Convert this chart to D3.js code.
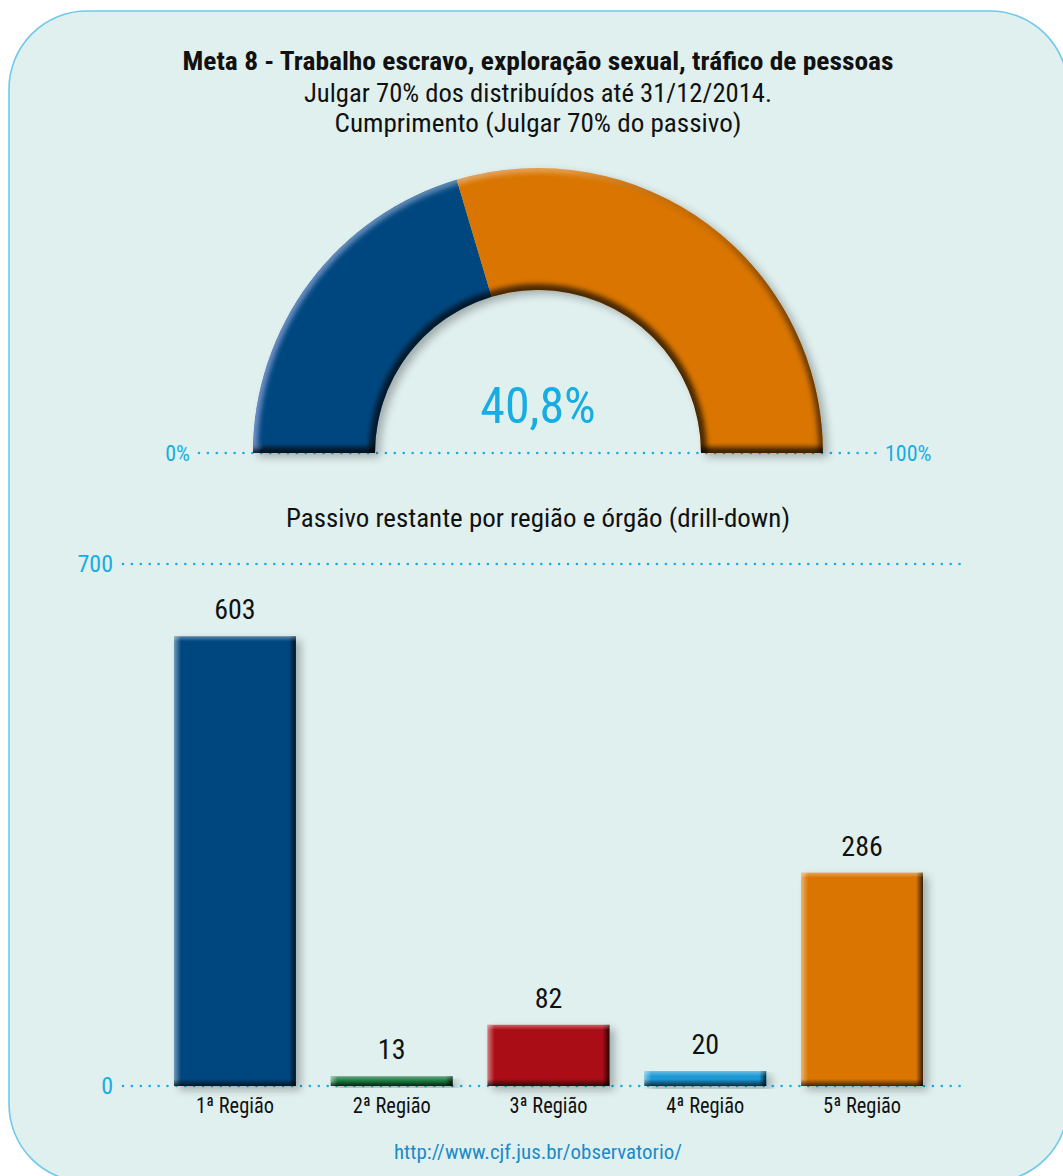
<!DOCTYPE html>
<html>
<head>
<meta charset="utf-8">
<script src="https://cdn.jsdelivr.net/npm/d3@7"></script>
<style>
  html, body { margin: 0; padding: 0; background: #ffffff; }
  svg { display: block; }
  text { font-family: "Liberation Sans Narrow", "Roboto Condensed", "DejaVu Sans Condensed", sans-serif; }
</style>
</head>
<body>
<svg id="chart" width="1063" height="1176"></svg>
<script>
// ---------- DATA ----------
const titleLines = [
  "Meta 8 - Trabalho escravo, exploração sexual, tráfico de pessoas",
  "Julgar 70% dos distribuídos até 31/12/2014.",
  "Cumprimento (Julgar 70% do passivo)"
];
const gaugeValue = 40.8;           // percent accomplished
const gaugeLabel = "40,8%";
const gaugeTickLabels = ["0%", "100%"];
const barSubtitle = "Passivo restante por região e órgão (drill-down)";
const categories = ["1ª Região", "2ª Região", "3ª Região", "4ª Região", "5ª Região"];
const values = [603, 13, 82, 20, 286];
const barColors = ["#02467f", "#13753a", "#ab0919", "#1a9ad6", "#d97504"];
const yTicks = [0, 700];
const sourceUrl = "http://www.cjf.jus.br/observatorio/";

// ---------- SETUP ----------
const svg = d3.select("#chart");
const defs = svg.append("defs");
const accent = "#17ade2";
const FONT = "Liberation Sans Narrow, Roboto Condensed, DejaVu Sans Condensed, sans-serif";

// background panel
svg.append("rect")
  .attr("x", 9).attr("y", 11).attr("width", 1059).attr("height", 1171)
  .attr("rx", 78).attr("ry", 78)
  .attr("fill", "#e0f0ef").attr("stroke", "#6fc9ec").attr("stroke-width", 1.6);

// filters
const sh = defs.append("filter").attr("id", "shadow")
  .attr("x", "-20%").attr("y", "-20%").attr("width", "140%").attr("height", "140%");
sh.append("feGaussianBlur").attr("in", "SourceAlpha").attr("stdDeviation", 4).attr("result", "b");
sh.append("feOffset").attr("in", "b").attr("dx", 5).attr("dy", 4).attr("result", "o");
sh.append("feComponentTransfer").attr("in", "o").attr("result", "s")
  .append("feFuncA").attr("type", "linear").attr("slope", 0.28);
const shm = sh.append("feMerge");
shm.append("feMergeNode").attr("in", "s");
shm.append("feMergeNode").attr("in", "SourceGraphic");

defs.append("filter").attr("id", "soft")
  .attr("x", "-10%").attr("y", "-10%").attr("width", "120%").attr("height", "120%")
  .append("feGaussianBlur").attr("stdDeviation", 2.4);

function linGrad(id, x1, y1, x2, y2, stops) {
  const g = defs.append("linearGradient").attr("id", id)
    .attr("x1", x1).attr("y1", y1).attr("x2", x2).attr("y2", y2);
  stops.forEach(s => g.append("stop").attr("offset", s[0]).attr("stop-color", s[1]).attr("stop-opacity", s[2]));
}
linGrad("gL", 0, 0, 1, 0, [[0, "#fff", 0.45], [1, "#fff", 0]]);
linGrad("gR", 0, 0, 1, 0, [[0, "#000", 0], [1, "#000", 0.75]]);
linGrad("gT", 0, 0, 0, 1, [[0, "#fff", 0.35], [1, "#fff", 0]]);
linGrad("gB", 0, 0, 0, 1, [[0, "#000", 0], [1, "#000", 0.7]]);

// dotted line helper
function dotted(x1, x2, y) {
  svg.append("line").attr("x1", x1).attr("x2", x2).attr("y1", y).attr("y2", y)
    .attr("stroke", accent).attr("stroke-width", 2.6)
    .attr("stroke-linecap", "round").attr("stroke-dasharray", "0 8.9");
}

// ---------- TITLES ----------
const titleSpecs = [
  { y: 70, size: 26, weight: "bold", len: 711 },
  { y: 102, size: 26, weight: "normal", len: 468 },
  { y: 132, size: 26, weight: "normal", len: 407 }
];
titleLines.forEach((t, i) => {
  const s = titleSpecs[i];
  svg.append("text").attr("x", 538).attr("y", s.y)
    .attr("text-anchor", "middle").attr("font-size", s.size).attr("font-weight", s.weight)
    .attr("fill", "#111").attr("textLength", s.len).attr("lengthAdjust", "spacingAndGlyphs")
    .text(t);
});

// ---------- GAUGE ----------
const gcx = 538, gcy = 453, rOut = 285, rIn = 163;
const angle = d3.scaleLinear().domain([0, 100]).range([-Math.PI / 2, Math.PI / 2]);
const arc = d3.arc().innerRadius(rIn).outerRadius(rOut);
const segs = [
  { a0: 0, a1: gaugeValue, color: "#02467f" },
  { a0: gaugeValue, a1: 100, color: "#d97504" }
];

dotted(199, 878, gcy);

const gauge = svg.append("g").attr("transform", `translate(${gcx},${gcy})`);
const clip = defs.append("clipPath").attr("id", "gclip");
clip.append("path").attr("d", arc({ startAngle: angle(0), endAngle: angle(100) }));

const gShape = gauge.append("g").attr("filter", "url(#shadow)");
gShape.selectAll("path.seg").data(segs).join("path").attr("class", "seg")
  .attr("d", d => arc({ startAngle: angle(d.a0), endAngle: angle(d.a1) }))
  .attr("fill", d => d.color);

const bevel = gauge.append("g").attr("clip-path", "url(#gclip)");
defs.append("linearGradient").attr("id", "gOuter").attr("gradientUnits", "userSpaceOnUse")
  .attr("x1", -rOut).attr("y1", 0).attr("x2", rOut).attr("y2", 0)
  .call(g => {
    g.append("stop").attr("offset", 0).attr("stop-color", "#c8c8ff").attr("stop-opacity", 0.55);
    g.append("stop").attr("offset", 0.55).attr("stop-color", "#fff").attr("stop-opacity", 0.3);
    g.append("stop").attr("offset", 0.8).attr("stop-color", "#000").attr("stop-opacity", 0.1);
    g.append("stop").attr("offset", 1).attr("stop-color", "#000").attr("stop-opacity", 0.55);
  });
const bv = bevel.append("g").attr("filter", "url(#soft)");
bv.append("circle").attr("r", rOut).attr("fill", "none")
  .attr("stroke", "url(#gOuter)").attr("stroke-width", 9);
bv.append("circle").attr("r", rIn).attr("fill", "none")
  .attr("stroke", "#000").attr("stroke-opacity", 0.65).attr("stroke-width", 12);
bv.append("line").attr("x1", -rOut - 10).attr("x2", rOut + 10).attr("y1", 0).attr("y2", 0)
  .attr("stroke", "#000").attr("stroke-opacity", 0.7).attr("stroke-width", 12);

gauge.append("text").attr("x", 0).attr("y", 423 - gcy)
  .attr("text-anchor", "middle").attr("font-size", 50).attr("fill", accent)
  .text(gaugeLabel);

svg.append("text").attr("x", 190).attr("y", gcy + 8).attr("text-anchor", "end")
  .attr("font-size", 22).attr("fill", accent).text(gaugeTickLabels[0]);
svg.append("text").attr("x", 885).attr("y", gcy + 8).attr("text-anchor", "start")
  .attr("font-size", 22).attr("fill", accent).text(gaugeTickLabels[1]);

// ---------- BAR CHART ----------
svg.append("text").attr("x", 538).attr("y", 527).attr("text-anchor", "middle")
  .attr("font-size", 26).attr("fill", "#111")
  .attr("textLength", 504).attr("lengthAdjust", "spacingAndGlyphs")
  .text(barSubtitle);

const x = d3.scaleBand().domain(categories).range([156.5, 940.5])
  .paddingInner(0.223).paddingOuter(0.1115);
const y = d3.scaleLinear().domain([0, 700]).range([1086, 564]);

// gridlines / ticks
yTicks.forEach(t => {
  dotted(123, 965, y(t));
});
const yAxis = svg.append("g").attr("transform", "translate(113,0)")
  .call(d3.axisLeft(y).tickValues(yTicks).tickSize(0).tickPadding(0));
yAxis.select(".domain").remove();
yAxis.selectAll("text").attr("font-size", 24).attr("fill", accent)
  .attr("font-family", FONT);

const bars = svg.append("g").selectAll("g.bar").data(values).join("g").attr("class", "bar");
bars.each(function (v, i) {
  const g = d3.select(this);
  const bx = x(categories[i]), bw = x.bandwidth();
  const by = y(v), bh = y(0) - y(v);
  g.append("rect").attr("x", bx).attr("y", by).attr("width", bw).attr("height", bh)
    .attr("fill", barColors[i]).attr("filter", "url(#shadow)");
  const sw = Math.min(7, bw / 2), shh = Math.min(5, bh / 2), sb = Math.min(7, bh / 2);
  g.append("rect").attr("x", bx).attr("y", by).attr("width", sw).attr("height", bh).attr("fill", "url(#gL)");
  g.append("rect").attr("x", bx + bw - sw).attr("y", by).attr("width", sw).attr("height", bh).attr("fill", "url(#gR)");
  g.append("rect").attr("x", bx).attr("y", by).attr("width", bw).attr("height", shh).attr("fill", "url(#gT)");
  g.append("rect").attr("x", bx).attr("y", y(0) - sb).attr("width", bw).attr("height", sb).attr("fill", "url(#gB)");
  g.append("text").attr("x", bx + bw / 2).attr("y", by - 17).attr("text-anchor", "middle")
    .attr("font-size", 28).attr("fill", "#111").text(v);
});

const xAxis = svg.append("g").attr("transform", `translate(0,${y(0)})`)
  .call(d3.axisBottom(x).tickSize(0).tickPadding(27));
xAxis.select(".domain").remove();
xAxis.selectAll("text").attr("font-size", 22).attr("fill", "#111")
  .attr("font-family", FONT).attr("dy", 0)
  .attr("textLength", 78).attr("lengthAdjust", "spacingAndGlyphs");

svg.append("text").attr("x", 538).attr("y", 1159).attr("text-anchor", "middle")
  .attr("font-size", 20).attr("fill", "#1a8bc9")
  .attr("textLength", 288).attr("lengthAdjust", "spacingAndGlyphs")
  .text(sourceUrl);
</script>
</body>
</html>
